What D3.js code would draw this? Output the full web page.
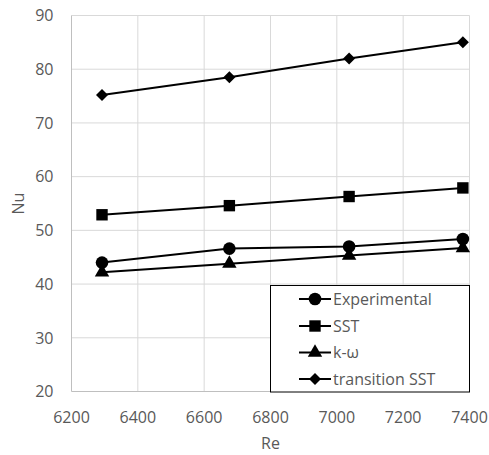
<!DOCTYPE html>
<html>
<head>
<script src="https://d3js.org/d3.v7.min.js"></script>
<style>
  body { margin: 0; background: #fff; }
  text { font-family: 'Open Sans', sans-serif; fill: #595959; }
</style>
</head>
<body>
<svg id="chart"></svg>
<script>
// data
var reValues = [6292, 6676, 7037, 7380];
var experimental = [44.0, 46.6, 47.0, 48.4];
var sst = [52.9, 54.6, 56.3, 57.9];
var kOmega = [42.2, 43.8, 45.3, 46.7];
var transitionSst = [75.2, 78.5, 82.0, 85.0];
var seriesNames = ["Experimental", "SST", "k-\u03c9", "transition SST"];
var xTicks = [6200, 6400, 6600, 6800, 7000, 7200, 7400];
var yTicks = [20, 30, 40, 50, 60, 70, 80, 90];

var W = 489, H = 455;
var plotLeft = 71.5, plotRight = 469.5, plotTop = 15.5, plotBottom = 391.5;

var svg = d3.select("#chart").attr("width", W).attr("height", H);

var x = d3.scaleLinear().domain([6200, 7400]).range([plotLeft, plotRight]);
var y = d3.scaleLinear().domain([20, 90]).range([plotBottom, plotTop]);

// gridlines
svg.append("g").selectAll("line").data(xTicks.slice(1)).enter().append("line")
  .attr("x1", d => x(d)).attr("x2", d => x(d))
  .attr("y1", plotTop).attr("y2", plotBottom)
  .attr("stroke", "#d9d9d9").attr("stroke-width", 1);
svg.append("g").selectAll("line").data(yTicks.slice(1)).enter().append("line")
  .attr("x1", plotLeft).attr("x2", plotRight)
  .attr("y1", d => y(d)).attr("y2", d => y(d))
  .attr("stroke", "#d9d9d9").attr("stroke-width", 1);

// axis lines
svg.append("line").attr("x1", plotLeft).attr("x2", plotLeft).attr("y1", plotTop).attr("y2", plotBottom)
  .attr("stroke", "#bfbfbf");
svg.append("line").attr("x1", plotLeft).attr("x2", plotRight).attr("y1", plotBottom).attr("y2", plotBottom)
  .attr("stroke", "#bfbfbf");

// tick labels
svg.append("g").selectAll("text").data(yTicks).enter().append("text")
  .attr("x", plotLeft - 18).attr("y", d => y(d)).attr("dy", "0.36em")
  .attr("text-anchor", "end").style("font-size", "16px")
  .text(d => d);
svg.append("g").selectAll("text").data(xTicks).enter().append("text")
  .attr("x", d => x(d)).attr("y", plotBottom + 26).attr("dy", "0.36em")
  .attr("text-anchor", "middle").style("font-size", "16px")
  .text(d => d);

svg.append("text").attr("x", (plotLeft + plotRight) / 2).attr("y", 443).attr("dy", "0.36em")
  .attr("text-anchor", "middle").style("font-size", "16px").text("Re");
svg.append("text").attr("transform", "translate(18," + ((plotTop + plotBottom) / 2) + ") rotate(-90)")
  .attr("dy", "0.36em").attr("text-anchor", "middle").style("font-size", "16px").text("Nu");

// square diamond (rotated square) like the spreadsheet marker
var squareDiamond = {
  draw: function (ctx, size) {
    var r = Math.sqrt(size / 2);
    ctx.moveTo(0, -r); ctx.lineTo(r, 0); ctx.lineTo(0, r); ctx.lineTo(-r, 0); ctx.closePath();
  }
};
var symbols = [
  d3.symbol().type(d3.symbolCircle).size(125),
  d3.symbol().type(d3.symbolSquare).size(130),
  d3.symbol().type(d3.symbolTriangle).size(90),
  d3.symbol().type(squareDiamond).size(72)
];
var allSeries = [experimental, sst, kOmega, transitionSst];

var line = d3.line().x((d, i) => x(reValues[i])).y(d => y(d));

allSeries.forEach(function (vals, s) {
  svg.append("path").datum(vals).attr("d", line)
    .attr("fill", "none").attr("stroke", "#000").attr("stroke-width", 2);
  svg.append("g").selectAll("path").data(vals).enter().append("path")
    .attr("d", symbols[s])
    .attr("transform", (d, i) => "translate(" + x(reValues[i]) + "," + y(d) + ")")
    .attr("fill", "#000");
});

// legend
var lg = svg.append("g");
lg.append("rect").attr("x", 270.5).attr("y", 285.5).attr("width", 199).attr("height", 106.5)
  .attr("fill", "#fff").attr("stroke", "#000").attr("stroke-width", 1);
var legendY = [299, 326, 352.5, 379];
seriesNames.forEach(function (name, s) {
  var g = lg.append("g").attr("transform", "translate(0," + legendY[s] + ")");
  g.append("line").attr("x1", 299).attr("x2", 331).attr("stroke", "#000").attr("stroke-width", 2);
  g.append("path").attr("d", symbols[s]).attr("transform", "translate(315,0)").attr("fill", "#000");
  g.append("text").attr("x", 333).attr("dy", "0.36em").style("font-size", "16px").text(name);
});
</script>
</body>
</html>
